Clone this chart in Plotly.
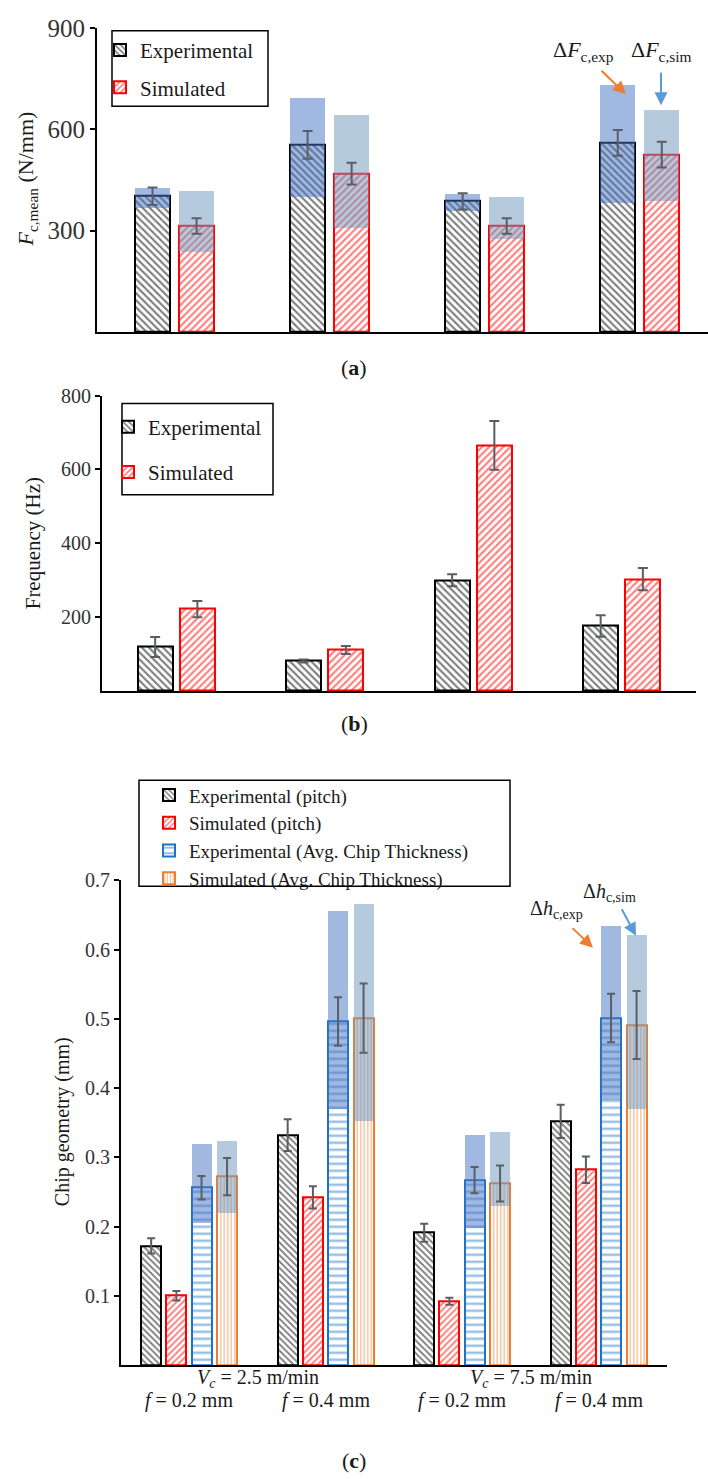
import plotly.graph_objects as go

W, H = 708, 1479
FONT = "Liberation Serif, Times New Roman, Times, serif"
TXT = "#1a1a1a"
ERRC = "#5a5f66"

groups = [0, 1, 2, 3]

# ---------------- (a) cutting force ----------------
fc_exp = [402, 554, 387, 560]
fc_exp_err = [26, 41, 24, 38]
fc_sim = [314, 469, 314, 525]
fc_sim_err = [23, 32, 23, 38]
dfc_exp_low = [367, 399, 358, 381]
dfc_exp_high = [428, 692, 409, 730]
dfc_sim_low = [238, 308, 275, 387]
dfc_sim_high = [419, 642, 399, 657]
fc_ticks = [300, 600, 900]

# ---------------- (b) frequency ----------------
freq_exp = [119, 81, 300, 176]
freq_exp_err = [27, 4, 16, 29]
freq_sim = [222, 111, 665, 303]
freq_sim_err = [22, 11, 66, 30]
freq_ticks = [200, 400, 600, 800]

# ---------------- (c) chip geometry ----------------
pitch_exp = [0.172, 0.332, 0.191, 0.352]
pitch_exp_err = [0.011, 0.023, 0.013, 0.024]
pitch_sim = [0.100, 0.242, 0.092, 0.282]
pitch_sim_err = [0.007, 0.016, 0.005, 0.019]
thick_exp = [0.256, 0.496, 0.267, 0.501]
thick_exp_err = [0.017, 0.035, 0.019, 0.035]
thick_sim = [0.272, 0.501, 0.262, 0.491]
thick_sim_err = [0.027, 0.050, 0.026, 0.049]
dh_exp_low = [0.205, 0.370, 0.197, 0.382]
dh_exp_high = [0.319, 0.655, 0.332, 0.634]
dh_sim_low = [0.219, 0.352, 0.229, 0.369]
dh_sim_high = [0.323, 0.665, 0.336, 0.621]
geo_ticks = [0.1, 0.2, 0.3, 0.4, 0.5, 0.6, 0.7]
feed_labels = ["<i>f</i> = 0.2 mm", "<i>f</i> = 0.4 mm", "<i>f</i> = 0.2 mm", "<i>f</i> = 0.4 mm"]
speed_labels = ["<i>V<sub>c</sub></i> = 2.5 m/min", "<i>V<sub>c</sub></i> = 7.5 m/min"]


def px(x):
    return x / W


def py(y):
    return 1 - y / H


BOX_EXP = "rgba(68,114,196,0.50)"
BOX_SIM = "rgba(110,150,190,0.50)"

fig = go.Figure()


def add_bar(vals, ax, center, width, line_color, shape, size, solidity, name=None, legend=None):
    fig.add_trace(go.Bar(
        x=groups, y=vals, xaxis="x" + ax, yaxis="y" + ax,
        offset=center - width / 2, width=width,
        marker=dict(color="white",
                    line=dict(color=line_color, width=2),
                    pattern=dict(shape=shape, fgcolor=line_color, bgcolor="white",
                                 size=size, solidity=solidity)),
        name=name, showlegend=name is not None, legend=legend,
        legendgroup=name, hoverinfo="skip"))


def add_box(low, high, ax, center, width, color):
    fig.add_trace(go.Bar(
        x=groups, y=[h - l for l, h in zip(low, high)], base=low,
        xaxis="x" + ax, yaxis="y" + ax,
        offset=center - width / 2, width=width,
        marker=dict(color=color, line=dict(width=0)),
        showlegend=False, hoverinfo="skip"))


def add_err(vals, err, ax, center, cap=5):
    fig.add_trace(go.Scatter(
        x=[g + center for g in groups], y=vals, xaxis="x" + ax, yaxis="y" + ax,
        mode="markers", marker=dict(size=1, opacity=0),
        error_y=dict(type="data", array=err, color=ERRC, thickness=2, width=cap),
        showlegend=False, hoverinfo="skip"))


# (a)
wa, oa = 0.226, 0.142
add_bar(fc_exp, "", -oa, wa, "black", "\\", 5, 0.42, "Experimental", "legend")
add_bar(fc_sim, "", oa, wa, "#ff0000", "/", 5, 0.42, "Simulated", "legend")
add_box(dfc_exp_low, dfc_exp_high, "", -oa, wa, BOX_EXP)
add_box(dfc_sim_low, dfc_sim_high, "", oa, wa, BOX_SIM)
add_err(fc_exp, fc_exp_err, "", -oa)
add_err(fc_sim, fc_sim_err, "", oa)

# (b)
wb, ob = 0.236, 0.142
add_bar(freq_exp, "2", -ob, wb, "black", "\\", 5, 0.42, "Experimental", "legend2")
add_bar(freq_sim, "2", ob, wb, "#ff0000", "/", 5, 0.42, "Simulated", "legend2")
add_err(freq_exp, freq_exp_err, "2", -ob)
add_err(freq_sim, freq_sim_err, "2", ob)

# (c)
wc = 0.147
oc = [-0.279, -0.094, 0.09, 0.277]
BLUE = "#1e73c8"
ORANGE = "#ed7d31"
add_bar(pitch_exp, "3", oc[0], wc, "black", "\\", 4.5, 0.42, "Experimental (pitch)", "legend3")
add_bar(pitch_sim, "3", oc[1], wc, "#ff0000", "/", 4.5, 0.42, "Simulated (pitch)", "legend3")
add_bar(thick_exp, "3", oc[2], wc, BLUE, "-", 7, 0.32, "Experimental (Avg. Chip Thickness)", "legend3")
add_bar(thick_sim, "3", oc[3], wc, ORANGE, "|", 3.5, 0.4, "Simulated (Avg. Chip Thickness)", "legend3")
add_box(dh_exp_low, dh_exp_high, "3", oc[2], wc, BOX_EXP)
add_box(dh_sim_low, dh_sim_high, "3", oc[3], wc, BOX_SIM)
add_err(pitch_exp, pitch_exp_err, "3", oc[0], 4)
add_err(pitch_sim, pitch_sim_err, "3", oc[1], 4)
add_err(thick_exp, thick_exp_err, "3", oc[2], 4)
add_err(thick_sim, thick_sim_err, "3", oc[3], 4)

xcommon = dict(showgrid=False, zeroline=False, showline=True, linecolor="black",
               linewidth=2, ticks="", showticklabels=False, fixedrange=True)
ycommon = dict(showgrid=False, zeroline=False, showline=True, linecolor="black",
               linewidth=2, ticks="outside", ticklen=5, tickwidth=1.5, tickcolor="black",
               fixedrange=True)

fig.update_layout(
    width=W, height=H, margin=dict(l=0, r=0, t=0, b=0),
    paper_bgcolor="white", plot_bgcolor="rgba(0,0,0,0)",
    barmode="overlay", bargap=0,
    font=dict(family=FONT, color=TXT),
    xaxis=dict(domain=[px(97), 1.0], range=[-0.5, 3.44], anchor="y", **xcommon),
    yaxis=dict(domain=[py(322), py(15)], range=[0, 900], anchor="x",
               tickvals=fc_ticks, tickfont=dict(size=25, family=FONT, color="#333"), **ycommon),
    xaxis2=dict(domain=[px(102), px(696)], range=[-0.5, 3.5], anchor="y2", **xcommon),
    yaxis2=dict(domain=[py(684), py(386)], range=[0, 800], anchor="x2",
                tickvals=freq_ticks, tickfont=dict(size=20, family=FONT, color="#333"), **ycommon),
    xaxis3=dict(domain=[px(121), px(667)], range=[-0.5, 3.5], anchor="y3", **xcommon),
    yaxis3=dict(domain=[py(1364), py(875)], range=[0, 0.7], anchor="x3",
                tickvals=geo_ticks, tickformat=".1f",
                tickfont=dict(size=20, family=FONT, color="#333"), **ycommon),
    legend=dict(x=px(100), y=py(17), xanchor="left", yanchor="top", bgcolor="rgba(0,0,0,0)",
                borderwidth=0, font=dict(size=21, family=FONT, color=TXT),
                traceorder="grouped", tracegroupgap=7),
    legend2=dict(x=px(108), y=py(397), xanchor="left", yanchor="top", bgcolor="rgba(0,0,0,0)",
                 borderwidth=0, font=dict(size=21, family=FONT, color=TXT),
                 traceorder="grouped", tracegroupgap=15),
    legend3=dict(x=px(149), y=py(770), xanchor="left", yanchor="top", bgcolor="rgba(0,0,0,0)",
                 borderwidth=0, font=dict(size=19, family=FONT, color=TXT),
                 traceorder="grouped", tracegroupgap=0),
)

# legend frames
for (x0, y0, x1, y1) in [(112, 18, 268, 94), (122, 394, 273, 486), (139, 774, 510, 881)]:
    fig.add_shape(type="rect", xref="paper", yref="paper",
                  x0=px(x0), x1=px(x1), y0=py(y1), y1=py(y0),
                  line=dict(color="black", width=1.5), fillcolor="rgba(0,0,0,0)")

ann = []
# axis titles
ann.append(dict(text="<i>F</i><sub>c,mean</sub> (N/mm)", x=px(27), y=py(168), textangle=-90, font=dict(size=22)))
ann.append(dict(text="Frequency (Hz)", x=px(33), y=py(535), textangle=-90, font=dict(size=21)))
ann.append(dict(text="Chip geometry (mm)", x=px(62), y=py(1119), textangle=-90, font=dict(size=20)))
# panel labels
ann.append(dict(text="(<b>a</b>)", x=0.5, y=py(358), font=dict(size=22)))
ann.append(dict(text="(<b>b</b>)", x=0.5, y=py(717), font=dict(size=22)))
ann.append(dict(text="(<b>c</b>)", x=0.5, y=py(1460), font=dict(size=22)))
# delta labels (a)
ann.append(dict(text="Δ<i>F</i><sub>c,exp</sub>", x=px(583), y=py(38), font=dict(size=22)))
ann.append(dict(text="Δ<i>F</i><sub>c,sim</sub>", x=px(661), y=py(38), font=dict(size=22)))
# delta labels (c)
ann.append(dict(text="Δ<i>h</i><sub>c,exp</sub>", x=px(556), y=py(904), font=dict(size=20)))
ann.append(dict(text="Δ<i>h</i><sub>c,sim</sub>", x=px(609), y=py(887), font=dict(size=20)))
for a in ann:
    a.update(xref="paper", yref="paper", showarrow=False, xanchor="center", yanchor="middle")
    a["font"].update(family=FONT, color=TXT)
    fig.add_annotation(**a)

# arrows
for (hx, hy, axp, ayp, col) in [(626, 82, -26, -25, ORANGE), (661, 93, 0, -34, "#5b9bd5"),
                                (593, 943, -22, -21, ORANGE), (636, 931, -15, -28, "#5b9bd5")]:
    fig.add_annotation(x=px(hx), y=py(hy), xref="paper", yref="paper", text="",
                       showarrow=True, ax=axp, ay=ayp, arrowcolor=col, arrowwidth=2,
                       arrowhead=2, arrowsize=1.3)

# category labels for (c)
for i, lab in enumerate(feed_labels):
    fig.add_annotation(x=groups[i], y=py(1413), xref="x3", yref="paper", text=lab,
                       showarrow=False, font=dict(size=20, family=FONT, color=TXT))
for j, lab in enumerate(speed_labels):
    fig.add_annotation(x=(groups[2 * j] + groups[2 * j + 1]) / 2, y=py(1392), xref="x3", yref="paper",
                       text=lab, showarrow=False, font=dict(size=20, family=FONT, color=TXT))

fig.write_html("out.html")
